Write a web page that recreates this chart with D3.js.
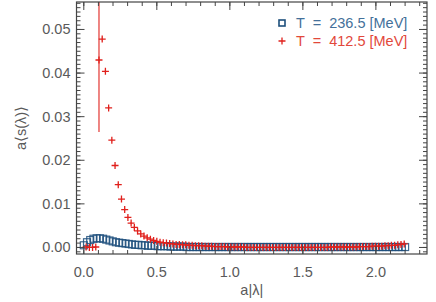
<!DOCTYPE html>
<html>
<head>
<style>
  body { margin: 0; background: #fff; }
  svg text { font-family: "Liberation Sans", Arial, sans-serif; }
</style>
</head>
<body>
<div id="chart"></div>
<script src="https://d3js.org/d3.v7.min.js"></script>
<script>
// T = 236.5 MeV (blue squares)
var blueX = [0,0.022,0.044,0.066,0.088,0.110,0.132,0.154,0.176,0.198,
  0.220,0.242,0.264,0.286,0.308,0.330,0.352,0.374,0.396,0.418,
  0.440,0.462,0.484,0.506,0.528,0.550,0.572,0.594,0.616,0.638,
  0.660,0.682,0.704,0.726,0.748,0.770,0.792,0.814,0.836,0.858,
  0.880,0.902,0.924,0.946,0.968,0.990,1.012,1.034,1.056,1.078,
  1.100,1.122,1.144,1.166,1.188,1.210,1.232,1.254,1.276,1.298,
  1.320,1.342,1.364,1.386,1.408,1.430,1.452,1.474,1.496,1.518,
  1.540,1.562,1.584,1.606,1.628,1.650,1.672,1.694,1.716,1.738,
  1.760,1.782,1.804,1.826,1.848,1.870,1.892,1.914,1.936,1.958,
  1.980,2.002,2.024,2.046,2.068,2.090,2.112,2.134,2.156,2.178,2.200];
var blueY = [0.0005,0.0012,0.0017,0.0020,0.0021,0.0021,0.0020,0.0018,0.0016,0.0014,
  0.0012,0.0011,0.0010,0.0009,0.0008,0.0007,0.0006,0.0006,0.0005,0.0005,
  0.0004,0.0004,0.0004,0.0003,0.0003,0.0003,0.0003,0.0002,0.0002,0.0002,
  0.0002,0.0002,0.0001,0.0001,0.0001,0.0001,0.0001,0.0001,0.0001,0.0001,
  0.0001,0.0001,0.0001,0.0001,0.0001,0.0001,0.0001,0.0001,0.0001,0.0001,
  0.0001,0.0001,0.0001,0.0001,0.0001,0.0001,0.0001,0.0001,0.0001,0.0001,
  0.0001,0.0001,0.0001,0.0001,0.0001,0.0001,0.0001,0.0001,0.0001,0.0001,
  0.0001,0.0001,0.0001,0.0001,0.0001,0.0001,0.0001,0.0001,0.0001,0.0001,
  0.0001,0.0001,0.0001,0.0001,0.0001,0.0001,0.0001,0.0001,0.0001,0.0001,
  0.0001,0.0001,0.0001,0.0001,0.0001,0.0001,0.0001,0.0001,0.0001,0.0001,0.0001];
var blueErr = [0.0004,0.0004,0.0004,0.0004,0.0004,0.0004,0.0004,0.0003,0.0003,0.0003,
  0.0003,0.0003,0.0003,0.0003,0.0003,0.0003,0.0003,0.0003,0.0003,0.0003,
  0.0003,0.0003,0.0003,0.0003,0.0003,0.0003,0.0003,0.0003,0.0003,0.0003,
  0.0002,0.0002,0.0002,0.0002,0.0002,0.0002,0.0002,0.0002,0.0002,0.0002,
  0.0002,0.0002,0.0002,0.0002,0.0002,0.0002,0.0002,0.0002,0.0002,0.0002,
  0.0002,0.0002,0.0002,0.0002,0.0002,0.0002,0.0002,0.0002,0.0002,0.0002,
  0.0002,0.0002,0.0002,0.0002,0.0002,0.0002,0.0002,0.0002,0.0002,0.0002,
  0.0002,0.0002,0.0002,0.0002,0.0002,0.0002,0.0002,0.0002,0.0002,0.0002,
  0.0002,0.0002,0.0002,0.0002,0.0002,0.0002,0.0002,0.0002,0.0002,0.0002,
  0.0002,0.0002,0.0002,0.0002,0.0002,0.0002,0.0002,0.0002,0.0002,0.0002,0.0002];

// T = 412.5 MeV (red crosses)
var redX = [0.016,0.038,0.060,0.082,0.104,0.126,0.148,0.170,0.192,0.214,
  0.236,0.258,0.280,0.302,0.324,0.346,0.368,0.390,0.412,0.434,
  0.456,0.478,0.500,0.522,0.544,0.566,0.588,0.610,0.632,0.654,
  0.676,0.698,0.720,0.742,0.764,0.786,0.808,0.830,0.852,0.874,
  0.896,0.918,0.940,0.962,0.984,1.006,1.028,1.050,1.072,1.094,
  1.116,1.138,1.160,1.182,1.204,1.226,1.248,1.270,1.292,1.314,
  1.336,1.358,1.380,1.402,1.424,1.446,1.468,1.490,1.512,1.534,
  1.556,1.578,1.600,1.622,1.644,1.666,1.688,1.710,1.732,1.754,
  1.776,1.798,1.820,1.842,1.864,1.886,1.908,1.930,1.952,1.974,
  1.996,2.018,2.040,2.062,2.084,2.106,2.128,2.150,2.172,2.194];
var redY = [0.0001,0.0000,0.0000,0.0001,0.0430,0.0478,0.0404,0.0320,0.0246,0.0188,
  0.0144,0.0111,0.0087,0.0069,0.0056,0.0046,0.0038,0.0031,0.0026,0.0022,
  0.0019,0.0016,0.0014,0.0012,0.0011,0.0010,0.0009,0.0008,0.0007,0.0007,
  0.0006,0.0006,0.0005,0.0005,0.0004,0.0004,0.0004,0.0003,0.0003,0.0003,
  0.0002,0.0002,0.0002,0.0002,0.0001,0.0001,0.0001,0.0001,0.0001,0.0001,
  0.0000,0.0000,0.0000,0.0000,0.0000,0.0000,0.0000,0.0000,0.0000,0.0000,
  0.0000,0.0000,0.0000,0.0000,0.0000,0.0000,0.0000,0.0000,0.0000,0.0000,
  0.0000,0.0000,0.0000,0.0000,0.0000,0.0000,0.0001,0.0001,0.0001,0.0001,
  0.0001,0.0001,0.0001,0.0001,0.0001,0.0002,0.0002,0.0002,0.0002,0.0003,
  0.0003,0.0003,0.0003,0.0004,0.0004,0.0005,0.0005,0.0006,0.0007,0.0008];
var redLo = [0.0002,0.0002,0.0002,0.0002,0.0165,0.0004,0.0004,0.0004,0.0003,0.0003,
  0.0003,0.0003,0.0003,0.0003,0.0003,0.0003,0.0003,0.0003,0.0003,0.0003,
  0.0003,0.0003,0.0003,0.0003,0.0003,0.0003,0.0003,0.0003,0.0003,0.0003,
  0.0003,0.0003,0.0003,0.0003,0.0003,0.0003,0.0003,0.0003,0.0003,0.0003,
  0.0003,0.0003,0.0003,0.0003,0.0003,0.0003,0.0003,0.0003,0.0003,0.0003,
  0.0003,0.0003,0.0003,0.0003,0.0003,0.0003,0.0003,0.0003,0.0003,0.0003,
  0.0003,0.0003,0.0003,0.0003,0.0003,0.0003,0.0003,0.0003,0.0003,0.0003,
  0.0003,0.0003,0.0003,0.0003,0.0003,0.0003,0.0003,0.0003,0.0003,0.0003,
  0.0004,0.0004,0.0004,0.0004,0.0004,0.0004,0.0005,0.0005,0.0005,0.0005,
  0.0005,0.0005,0.0005,0.0005,0.0005,0.0005,0.0005,0.0005,0.0005,0.0005];
var redHi = [0.0002,0.0002,0.0002,0.0002,0.0200,0.0004,0.0004,0.0004,0.0003,0.0003,
  0.0003,0.0003,0.0003,0.0003,0.0003,0.0003,0.0003,0.0003,0.0003,0.0003,
  0.0003,0.0003,0.0003,0.0003,0.0003,0.0003,0.0003,0.0003,0.0003,0.0003,
  0.0003,0.0003,0.0003,0.0003,0.0003,0.0003,0.0003,0.0003,0.0003,0.0003,
  0.0003,0.0003,0.0003,0.0003,0.0003,0.0003,0.0003,0.0003,0.0003,0.0003,
  0.0003,0.0003,0.0003,0.0003,0.0003,0.0003,0.0003,0.0003,0.0003,0.0003,
  0.0003,0.0003,0.0003,0.0003,0.0003,0.0003,0.0003,0.0003,0.0003,0.0003,
  0.0003,0.0003,0.0003,0.0003,0.0003,0.0003,0.0003,0.0003,0.0003,0.0003,
  0.0004,0.0004,0.0004,0.0004,0.0004,0.0004,0.0005,0.0005,0.0005,0.0005,
  0.0005,0.0005,0.0005,0.0005,0.0005,0.0005,0.0005,0.0005,0.0005,0.0005];

var xMajor = [0, 0.5, 1.0, 1.5, 2.0];
var yMajor = [0, 0.01, 0.02, 0.03, 0.04, 0.05];
var legendLabels = ["T = 236.5 [MeV]", "T = 412.5 [MeV]"];

var W = 436, H = 302;
var margin = {top: 2, right: 9, bottom: 48, left: 76.5};
var width = W - margin.left - margin.right,
    height = H - margin.top - margin.bottom;

var blueMark = "#1d4f7c", blueText = "#44709a";
var redMark = "#e0201c", redText = "#e2483b";
var axisCol = "#444", textCol = "#5a5a5a";

var svg = d3.select("#chart").append("svg")
    .attr("width", W).attr("height", H)
  .append("g")
    .attr("transform", "translate(" + margin.left + "," + margin.top + ")");

var x = d3.scaleLinear().domain([-0.05, 2.35]).range([0, width]);
var y = d3.scaleLinear().domain([-0.0015, 0.0563]).range([height, 0]);

svg.append("defs").append("clipPath").attr("id", "clip")
  .append("rect").attr("width", width).attr("height", height);

var plot = svg.append("g").attr("clip-path", "url(#clip)");

var blue = blueX.map(function (d, i) { return {x: d, y: blueY[i], lo: blueY[i] - blueErr[i], hi: blueY[i] + blueErr[i]}; });
var red = redX.map(function (d, i) { return {x: d, y: redY[i], lo: redY[i] - redLo[i], hi: redY[i] + redHi[i]}; });

// error bars
plot.selectAll(".eb").data(blue).enter().append("line")
    .attr("x1", function (d) { return x(d.x); }).attr("x2", function (d) { return x(d.x); })
    .attr("y1", function (d) { return y(d.lo); }).attr("y2", function (d) { return y(d.hi); })
    .attr("stroke", blueMark).attr("stroke-opacity", 0.35).attr("stroke-width", 1);

plot.selectAll(".er").data(red).enter().append("line")
    .attr("x1", function (d) { return x(d.x); }).attr("x2", function (d) { return x(d.x); })
    .attr("y1", function (d) { return y(d.lo); }).attr("y2", function (d) { return y(d.hi); })
    .attr("stroke", redMark).attr("stroke-opacity", function (d) { return (d.hi - d.lo) > 0.01 ? 0.9 : 0.35; })
    .attr("stroke-width", 1.2);

// blue squares
plot.selectAll(".sq").data(blue).enter().append("rect")
    .attr("x", function (d) { return x(d.x) - 3.5; })
    .attr("y", function (d) { return y(d.y) - 3.5; })
    .attr("width", 7).attr("height", 7)
    .attr("fill", "none").attr("stroke", blueMark).attr("stroke-opacity", 0.85).attr("stroke-width", 1.2);

// red plus signs
plot.selectAll(".pl").data(red).enter().append("path")
    .attr("d", "M-3.5,0H3.5M0,-3.5V3.5")
    .attr("transform", function (d) { return "translate(" + x(d.x) + "," + y(d.y) + ")"; })
    .attr("stroke", redMark).attr("stroke-width", 1.3).attr("fill", "none");

// axes, ticks inward on all four sides
var xMinor = d3.range(0, 2.35, 0.1);
var yMinor = d3.range(-0.001, 0.0563, 0.001);

function tickSet(g, vals, len, horiz, pos) {
  g.selectAll(null).data(vals).enter().append("line")
    .attr("x1", function (d) { return horiz ? x(d) : pos; })
    .attr("x2", function (d) { return horiz ? x(d) : pos + len; })
    .attr("y1", function (d) { return horiz ? pos : y(d); })
    .attr("y2", function (d) { return horiz ? pos + len : y(d); })
    .attr("stroke", axisCol).attr("stroke-width", 1);
}
var ax = svg.append("g");
tickSet(ax, xMinor, -4, true, height);
tickSet(ax, xMajor, -8, true, height);
tickSet(ax, xMinor, 4, true, 0);
tickSet(ax, xMajor, 8, true, 0);
tickSet(ax, yMinor, 4, false, 0);
tickSet(ax, yMajor, 8, false, 0);
tickSet(ax, yMinor, -4, false, width);
tickSet(ax, yMajor, -8, false, width);

ax.append("rect").attr("width", width).attr("height", height)
    .attr("fill", "none").attr("stroke", axisCol).attr("stroke-width", 1.2);

svg.append("g").selectAll("text").data(xMajor).enter().append("text")
    .attr("x", function (d) { return x(d); }).attr("y", height + 23)
    .attr("text-anchor", "middle").attr("font-size", 14.5).attr("fill", textCol)
    .text(function (d) { return d3.format(".1f")(d); });

svg.append("g").selectAll("text").data(yMajor).enter().append("text")
    .attr("x", -6).attr("y", function (d) { return y(d) + 5; })
    .attr("text-anchor", "end").attr("font-size", 14.5).attr("fill", textCol)
    .text(function (d) { return d3.format(".2f")(d); });

svg.append("text").attr("x", x(1.15)).attr("y", height + 41)
    .attr("text-anchor", "middle").attr("font-size", 14.5).attr("fill", textCol)
    .text("a|λ|");

svg.append("text").attr("transform", "translate(" + (-51) + "," + (height / 2) + ") rotate(-90)")
    .attr("text-anchor", "middle").attr("font-size", 14.5).attr("fill", textCol)
    .text("a⟨s(λ)⟩");

// legend
var lg = svg.append("g");
lg.append("rect").attr("x", 282 - margin.left - 3).attr("y", 23 - margin.top - 3)
    .attr("width", 6).attr("height", 6).attr("fill", "none")
    .attr("stroke", blueMark).attr("stroke-width", 1.6);
lg.append("path").attr("d", "M-3.5,0H3.5M0,-3.5V3.5")
    .attr("transform", "translate(" + (282 - margin.left) + "," + (41 - margin.top) + ")")
    .attr("stroke", redMark).attr("stroke-width", 1.3);
lg.selectAll("text").data(legendLabels).enter().append("text")
    .attr("x", 296 - margin.left)
    .attr("y", function (d, i) { return 28 - margin.top + i * 18; })
    .attr("font-size", 14.5)
    .attr("fill", function (d, i) { return i == 0 ? blueText : redText; })
    .attr("xml:space", "preserve")
    .text(function (d) { return d.replace(/ = /, "  =  "); });
</script>
</body>
</html>
